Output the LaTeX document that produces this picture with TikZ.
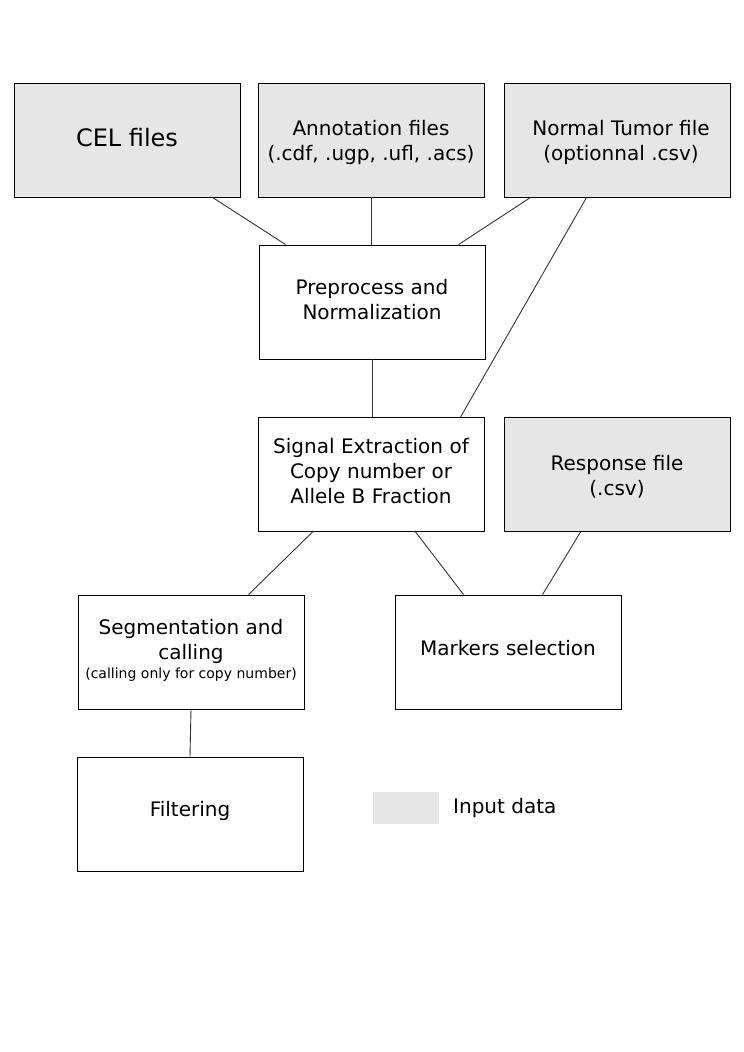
\documentclass[tikz,border=0pt]{standalone}
\usepackage{fontspec}
\setmainfont{DejaVu Sans}
\usetikzlibrary{calc}
\definecolor{inputgray}{HTML}{E6E6E6}
\definecolor{linegray}{HTML}{333333}
\newcommand{\shiftedtext}[2]{\raisebox{#1}[0pt][0pt]{\begin{tabular}{@{}c@{}}#2\end{tabular}}}
\begin{document}
\begin{tikzpicture}[x=1pt,y=-1pt,
  box/.style={draw=black,line width=0.9pt,rectangle,minimum width=226pt,minimum height=114pt,
    inner sep=0pt,align=center,font=\fontsize{20}{25}\selectfont},
  inbox/.style={box,fill=inputgray},
  link/.style={draw=linegray,line width=0.9pt}]
\useasboundingbox (0,0) rectangle (744,1052);
\node[inbox,font=\fontsize{24}{25}\selectfont] (cel) at (127,140) {\shiftedtext{-7pt}{CEL files}};
\node[inbox] (ann) at (371,140) {\shiftedtext{-8pt}{Annotation files\\(.cdf, .ugp, .ufl, .acs)}};
\node[inbox] (nt) at (617,140) {\shiftedtext{-8pt}{\hspace*{8pt}Normal Tumor file\\\hspace*{8pt}(optionnal .csv)}};
\node[box] (pre) at (372,302) {\shiftedtext{-5pt}{Preprocess and\\Normalization}};
\node[box] (sig) at (371,474.5) {\shiftedtext{-4pt}{Signal Extraction of\\Copy number or\\Allele B Fraction}};
\node[inbox] (resp) at (617,474.5) {\shiftedtext{-8.5pt}{Response file\\(.csv)}};
\node[box] (seg) at (191,652) {\shiftedtext{-5pt}{Segmentation and\\calling\\[-6pt]{\fontsize{14}{17}\selectfont(calling only for copy number)}}};
\node[box] (mk) at (508,652) {\shiftedtext{-4pt}{Markers selection}};
\node[box] (filt) at (190,814) {\shiftedtext{-3pt}{Filtering}};
\node[fill=inputgray,minimum width=66pt,minimum height=32pt,inner sep=0pt] (leg) at (406,808) {};
\node[anchor=west,inner sep=0pt,font=\fontsize{20}{25}\selectfont] (legt) at (453,808) {Input data};
\draw[link] ($(cel.south west)+(199,0)$) -- ($(pre.north west)+(27,0)$);
\draw[link] (ann.south) -- (ann.south |- pre.north);
\draw[link] ($(nt.south west)+(27,0)$) -- ($(pre.north west)+(200,0)$);
\draw[link] ($(nt.south west)+(83,0)$) -- ($(sig.north west)+(203,0)$);
\draw[link] (pre.south) -- (pre.south |- sig.north);
\draw[link] ($(sig.south west)+(55,0)$) -- ($(seg.north west)+(171,0)$);
\draw[link] ($(sig.south west)+(158,0)$) -- ($(mk.north west)+(69,0)$);
\draw[link] ($(resp.south west)+(77,0)$) -- ($(mk.north west)+(148,0)$);
\draw[link] (seg.south) -- (filt.north);
\end{tikzpicture}
\end{document}
